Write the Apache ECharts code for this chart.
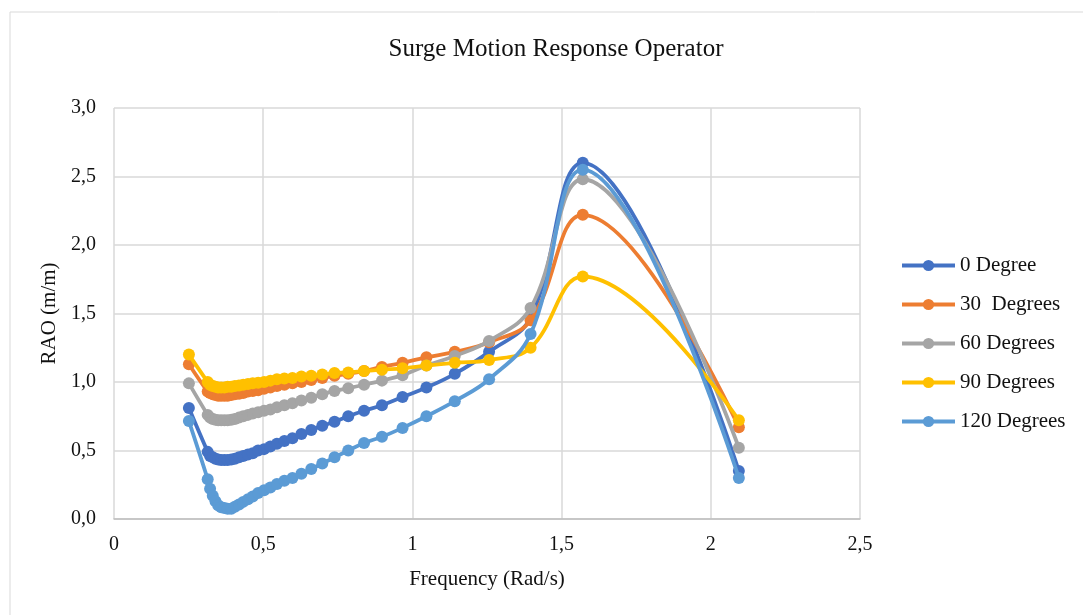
<!DOCTYPE html>
<html>
<head>
<meta charset="utf-8">
<script src="https://cdn.jsdelivr.net/npm/echarts@6/dist/echarts.min.js"></script>
<style>
  html, body { margin: 0; padding: 0; background: #fff; }
  #chart { width: 1083px; height: 615px; }
</style>
</head>
<body>
<div id="chart"></div>
<script>
// frequency (rad/s)
var freq = [0.251, 0.314, 0.322, 0.331, 0.340, 0.349, 0.359, 0.370, 0.381, 0.393,
  0.405, 0.419, 0.433, 0.449, 0.465, 0.483, 0.503, 0.524, 0.546, 0.571,
  0.598, 0.628, 0.661, 0.698, 0.739, 0.785, 0.838, 0.898, 0.967, 1.047,
  1.142, 1.257, 1.396, 1.571, 2.094];

var deg0 = [0.81, 0.49, 0.46, 0.45, 0.44, 0.435, 0.43, 0.43, 0.43, 0.435,
  0.44, 0.45, 0.46, 0.47, 0.48, 0.50, 0.51, 0.53, 0.55, 0.57,
  0.59, 0.62, 0.65, 0.68, 0.71, 0.75, 0.79, 0.83, 0.89, 0.96,
  1.06, 1.22, 1.47, 2.60, 0.35];

var deg30 = [1.13, 0.93, 0.92, 0.91, 0.905, 0.90, 0.90, 0.90, 0.90, 0.905,
  0.91, 0.915, 0.92, 0.93, 0.935, 0.94, 0.95, 0.96, 0.97, 0.98,
  0.99, 1.00, 1.015, 1.03, 1.045, 1.06, 1.08, 1.11, 1.14, 1.18,
  1.22, 1.29, 1.45, 2.22, 0.67];

var deg60 = [0.99, 0.76, 0.74, 0.73, 0.725, 0.72, 0.72, 0.72, 0.72, 0.725,
  0.73, 0.74, 0.75, 0.76, 0.77, 0.78, 0.79, 0.80, 0.815, 0.83,
  0.845, 0.865, 0.885, 0.91, 0.935, 0.955, 0.98, 1.01, 1.05, 1.12,
  1.19, 1.30, 1.54, 2.48, 0.52];

var deg90 = [1.20, 1.00, 0.98, 0.97, 0.965, 0.96, 0.96, 0.96, 0.965, 0.965,
  0.97, 0.975, 0.98, 0.985, 0.99, 0.995, 1.00, 1.01, 1.02, 1.025,
  1.03, 1.04, 1.045, 1.055, 1.065, 1.07, 1.08, 1.09, 1.10, 1.12,
  1.14, 1.16, 1.25, 1.77, 0.72];

var deg120 = [0.715, 0.29, 0.22, 0.17, 0.13, 0.10, 0.085, 0.08, 0.075, 0.075,
  0.09, 0.105, 0.125, 0.145, 0.165, 0.19, 0.21, 0.23, 0.255, 0.28,
  0.30, 0.33, 0.365, 0.405, 0.45, 0.50, 0.555, 0.60, 0.665, 0.75,
  0.86, 1.02, 1.35, 2.55, 0.30];

var seriesNames = ['0 Degree', '30  Degrees', '60 Degrees', '90 Degrees', '120 Degrees'];
var seriesColors = ['#4472C4', '#ED7D31', '#A5A5A5', '#FFC000', '#5B9BD5'];
var seriesValues = [deg0, deg30, deg60, deg90, deg120];

var font = 'Liberation Serif';
var myChart = echarts.init(document.getElementById('chart'));

function pairs(vals) {
  return freq.map(function (f, i) { return [f, vals[i]]; });
}

var series = seriesNames.map(function (name, i) {
  return {
    name: name,
    type: 'line',
    data: pairs(seriesValues[i]),
    smooth: 0.4,
    symbol: 'circle',
    symbolSize: 12,
    color: seriesColors[i],
    lineStyle: { width: 3.8, color: seriesColors[i] },
    itemStyle: { color: seriesColors[i] },
    z: 2 + i
  };
});

var option = {
  backgroundColor: '#fff',
  animation: false,
  textStyle: { fontFamily: font },
  graphic: [{
    type: 'rect',
    shape: { x: 10, y: 12, width: 1100, height: 700 },
    style: { fill: 'none', stroke: '#D9D9D9', lineWidth: 1 },
    silent: true
  }],
  title: {
    text: 'Surge Motion Response Operator',
    left: 551,
    top: 32,
    textAlign: 'center',
    textStyle: { fontFamily: font, fontSize: 25, fontWeight: 'normal', color: '#111' }
  },
  legend: {
    orient: 'vertical',
    left: 895,
    top: 250,
    itemWidth: 53,
    itemHeight: 14,
    itemGap: 18,
    lineStyle: { width: 4 },
    textStyle: { fontFamily: font, fontSize: 21, color: '#111' },
    data: seriesNames
  },
  grid: { left: 114, right: 223, top: 108, bottom: 96, containLabel: false },
  xAxis: {
    type: 'value',
    min: 0,
    max: 2.5,
    interval: 0.5,
    name: 'Frequency (Rad/s)',
    nameLocation: 'middle',
    nameGap: 50,
    nameTextStyle: { fontFamily: font, fontSize: 21, color: '#111' },
    axisLine: { show: true, lineStyle: { color: '#BFBFBF', width: 1.5 } },
    axisTick: { show: false },
    splitLine: { show: true, lineStyle: { color: '#D9D9D9', width: 1.5 } },
    axisLabel: {
      margin: 16,
      fontFamily: font,
      fontSize: 20,
      color: '#111',
      formatter: function (v) { return String(v).replace('.', ','); }
    }
  },
  yAxis: {
    type: 'value',
    min: 0,
    max: 3,
    interval: 0.5,
    name: 'RAO (m/m)',
    nameLocation: 'middle',
    nameGap: 53,
    nameTextStyle: { fontFamily: font, fontSize: 21, color: '#111' },
    axisLine: { show: false },
    axisTick: { show: false },
    splitLine: { show: true, lineStyle: { color: '#D9D9D9', width: 1.5 } },
    axisLabel: {
      margin: 18,
      fontFamily: font,
      fontSize: 20,
      color: '#111',
      formatter: function (v) { return v.toFixed(1).replace('.', ','); }
    }
  },
  series: series
};

option && myChart.setOption(option);
</script>
</body>
</html>
